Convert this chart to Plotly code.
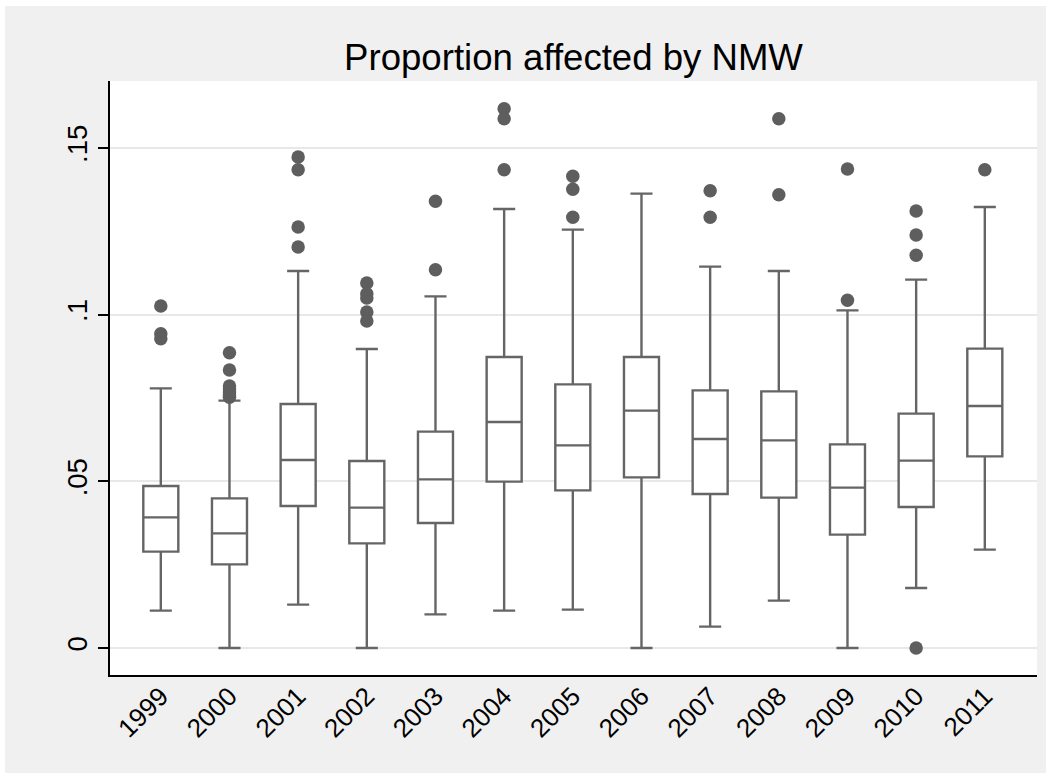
import plotly.graph_objects as go

years = ["1999", "2000", "2001", "2002", "2003", "2004", "2005",
         "2006", "2007", "2008", "2009", "2010", "2011"]
lower_whisker = [0.0112, 0.0000, 0.0130, 0.0000, 0.0101, 0.0112, 0.0115,
                 0.0000, 0.0064, 0.0142, 0.0000, 0.0180, 0.0295]
q1 = [0.0289, 0.0251, 0.0426, 0.0314, 0.0375, 0.0499, 0.0473,
      0.0512, 0.0462, 0.0451, 0.0340, 0.0423, 0.0575]
median = [0.0392, 0.0344, 0.0564, 0.0421, 0.0506, 0.0678, 0.0608,
          0.0712, 0.0627, 0.0623, 0.0481, 0.0562, 0.0726]
q3 = [0.0486, 0.0449, 0.0732, 0.0561, 0.0649, 0.0873, 0.0791,
      0.0873, 0.0773, 0.0770, 0.0611, 0.0703, 0.0898]
upper_whisker = [0.0779, 0.0742, 0.1131, 0.0897, 0.1055, 0.1317, 0.1255,
                 0.1363, 0.1144, 0.1131, 0.1013, 0.1105, 0.1323]

outlier_year = ["1999", "1999", "1999",
                "2000", "2000", "2000", "2000", "2000", "2000", "2000",
                "2001", "2001", "2001", "2001",
                "2002", "2002", "2002", "2002", "2002",
                "2003", "2003",
                "2004", "2004", "2004",
                "2005", "2005", "2005",
                "2007", "2007",
                "2008", "2008",
                "2009", "2009",
                "2010", "2010", "2010", "2010",
                "2011"]
outlier_value = [0.1026, 0.0943, 0.0928,
                 0.0886, 0.0834, 0.0786, 0.0777, 0.0768, 0.0760, 0.0752,
                 0.1473, 0.1435, 0.1263, 0.1203,
                 0.1095, 0.1063, 0.1050, 0.1008, 0.0981,
                 0.1340, 0.1135,
                 0.1618, 0.1588, 0.1435,
                 0.1415, 0.1376, 0.1292,
                 0.1372, 0.1292,
                 0.1588, 0.1360,
                 0.1437, 0.1043,
                 0.1311, 0.1239, 0.1178, 0.0000,
                 0.1435]

y_tick_vals = [0, 0.05, 0.1, 0.15]
y_tick_text = ["0", ".05", ".1", ".15"]

pos = list(range(len(years)))
outlier_pos = [years.index(y) for y in outlier_year]

FONT = "Liberation Sans, Arial, sans-serif"
BOXCOL = "#656565"

fig = go.Figure()
fig.add_trace(go.Box(
    x=pos, q1=q1, median=median, q3=q3,
    lowerfence=lower_whisker, upperfence=upper_whisker,
    width=0.51, whiskerwidth=0.63,
    fillcolor="white",
    line=dict(color=BOXCOL, width=2.4),
    boxpoints=False, hoverinfo="skip", showlegend=False,
))
fig.add_trace(go.Scatter(
    x=outlier_pos, y=outlier_value, mode="markers",
    marker=dict(size=13.5, color="#5e5e5e", line=dict(width=0)),
    hoverinfo="skip", showlegend=False,
))

L, R, T, B = 110, 15, 81, 98
W, H = 1052, 773
pw, ph = W - L - R, H - T - B

def px_x(p):
    return (p - L) / pw

def px_y(p):
    return (H - B - p) / ph

fig.update_layout(
    width=W, height=H,
    margin=dict(l=L, r=R, t=T, b=B, pad=0, autoexpand=False),
    paper_bgcolor="white", plot_bgcolor="white",
    font=dict(family=FONT, color="black"),
    title=dict(text="Proportion affected by NMW", x=0.5, xref="paper",
               y=1 - 57 / H, yref="container", yanchor="middle",
               font=dict(size=36.6, family=FONT, color="black")),
    shapes=[
        dict(type="rect", xref="paper", yref="paper", layer="below",
             x0=px_x(5), x1=px_x(1046), y0=px_y(773), y1=px_y(6),
             fillcolor="#f0f0f0", line=dict(width=0)),
        dict(type="rect", xref="paper", yref="paper", layer="below",
             x0=0, x1=1, y0=0, y1=1,
             fillcolor="white", line=dict(width=0)),
    ],
    xaxis=dict(
        range=[-0.74, 12.76], tickvals=pos, ticktext=years,
        tickangle=-45, showgrid=False, zeroline=False,
        showline=True, linecolor="black", linewidth=1.5,
        ticks="", ticklabelstandoff=-6,
        tickfont=dict(size=26, family=FONT, color="black"),
        fixedrange=True, automargin=False,
    ),
    yaxis=dict(
        range=[-0.0081, 0.1701], tickvals=y_tick_vals, ticktext=y_tick_text,
        tickangle=-90, showgrid=True, gridcolor="#e8e8e8", gridwidth=2.2,
        zeroline=False, showline=True, linecolor="black", linewidth=1.5,
        ticks="outside", ticklen=10, tickwidth=1.5, tickcolor="black",
        tickfont=dict(size=27.5, family=FONT, color="black"),
        fixedrange=True, automargin=False,
    ),
)

fig.write_html("out.html", config={"displayModeBar": False},
               post_script="document.body.style.margin='0px';")
